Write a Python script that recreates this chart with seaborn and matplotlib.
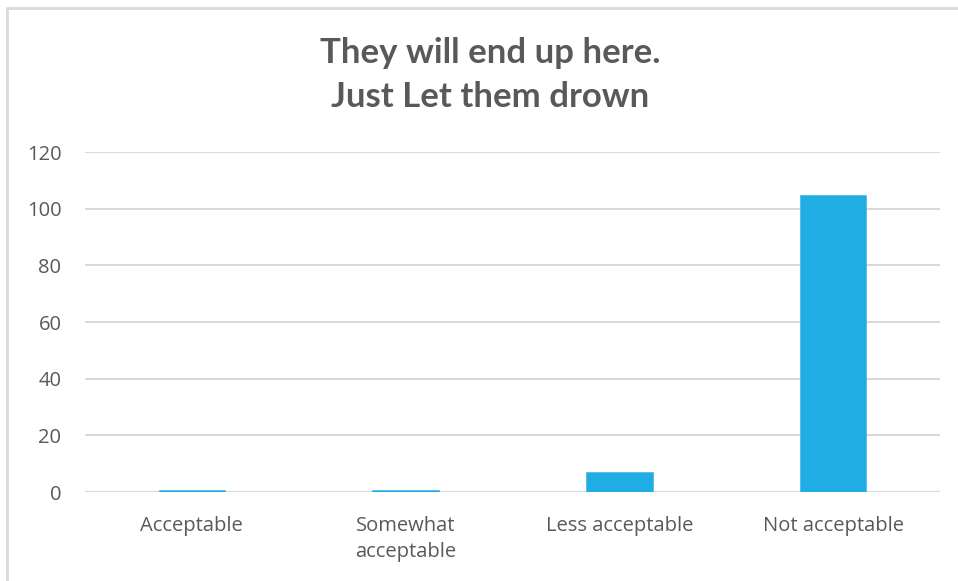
import matplotlib
matplotlib.use("Agg")
import matplotlib.pyplot as plt
from matplotlib.lines import Line2D
import seaborn as sns
import pandas as pd

categories = ["Acceptable", "Somewhat\nacceptable", "Less acceptable", "Not acceptable"]
values = [0.8, 0.8, 7, 105]
y_ticks = [0, 20, 40, 60, 80, 100, 120]
title = "They will end up here.\nJust Let them drown"

sns.set_theme(style="white")
plt.rcParams['font.family'] = ['Open Sans', 'DejaVu Sans']

df = pd.DataFrame({"category": categories, "value": values})

fig = plt.figure(figsize=(9.58, 5.81), dpi=100)
ax = fig.add_axes([85/958, 1-492/581, (940-85)/958, (492-152)/581])

sns.barplot(data=df, x="category", y="value", color="#1FADE4", width=0.31,
            saturation=1, edgecolor="#3FB9E9", linewidth=0.5, ax=ax)
for p in ax.patches:
    p.set_zorder(5)

ax.set_ylim(0, 120)
ax.set_xlim(-0.5, 3.5)
ax.set_yticks(y_ticks)
ax.set_yticklabels([str(t) for t in y_ticks])
ax.yaxis.grid(True, color="#D9D9D9", linewidth=1.4, zorder=0)
ax.set_axisbelow(True)
for s in ax.spines.values():
    s.set_visible(False)
ax.axhline(0, color="#D9D9D9", linewidth=1.6, zorder=1)
ax.set_xlabel("")
ax.set_ylabel("")
ax.tick_params(axis="both", length=0, colors="#595959", labelsize=14.5)
ax.tick_params(axis="y", pad=17)
ax.tick_params(axis="x", pad=17)
for lbl in ax.get_xticklabels():
    lbl.set_linespacing(1.45)
    lbl.set_verticalalignment("top")

fig.text(490/958, 1-75/581, title, ha="center", va="center", fontsize=25,
         fontweight="bold", color="#595959", family=["Lato", "DejaVu Sans"],
         linespacing=1.45)

fig.add_artist(Line2D([7/958, 7/958], [0, 1-8/581], transform=fig.transFigure,
                      color="#D9D9D9", linewidth=2))
fig.add_artist(Line2D([7/958, 1], [1-8/581, 1-8/581], transform=fig.transFigure,
                      color="#D9D9D9", linewidth=2))

fig.savefig("out.png", dpi=100, facecolor="white")
